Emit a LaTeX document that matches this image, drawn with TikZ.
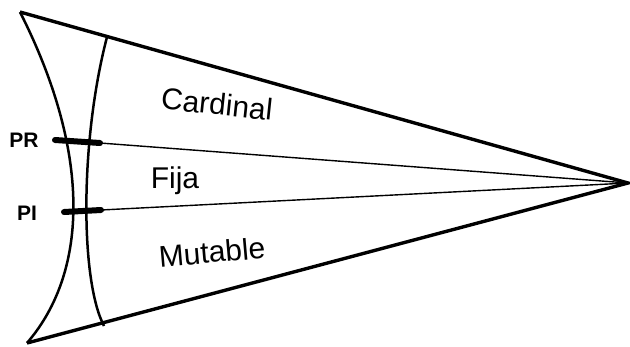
\documentclass[tikz,border=0pt]{standalone}
\usepackage{fontspec}
\setmainfont{Liberation Sans}
\begin{document}
\begin{tikzpicture}[x=1pt,y=-1pt,
  edge/.style={line width=3.4pt},
  curve/.style={line width=2.5pt},
  ray/.style={line width=1.4pt},
  bar/.style={line width=6pt,line cap=round},
  lab/.style={font=\fontsize{21}{21}\selectfont\bfseries,inner sep=0pt},
  zone/.style={font=\fontsize{30}{30}\selectfont,inner sep=0pt}]
\useasboundingbox (0,0) rectangle (630,346);
\coordinate (apex) at (628,183);
\coordinate (tl) at (20,12);
\coordinate (bl) at (27,343);
\coordinate (itop) at (107,37);
\coordinate (ibot) at (104,326);
\coordinate (pra) at (55,140);
\coordinate (prb) at (100,143);
\coordinate (pia) at (64,212);
\coordinate (pib) at (101,210);
\draw[edge,line join=miter] (tl) -- (apex) -- (bl);
\draw[curve] (tl) .. controls (90,150) and (90,270) .. (bl);
\draw[curve] (itop) .. controls (80,140) and (80,280) .. (ibot);
\draw[ray] (prb) -- (apex);
\draw[ray] (pib) -- (apex);
\draw[bar] (pra) -- (prb);
\draw[bar] (pia) -- (pib);
\node[lab] (pr) at (24,140) {PR};
\node[lab] (pi) at (27,213) {PI};
\node[zone,rotate=-6] (card) at (217,104) {Cardinal};
\node[zone] (fija) at (175,181) {Fija};
\node[zone,rotate=5] (mut) at (212,252) {Mutable};
\end{tikzpicture}
\end{document}
